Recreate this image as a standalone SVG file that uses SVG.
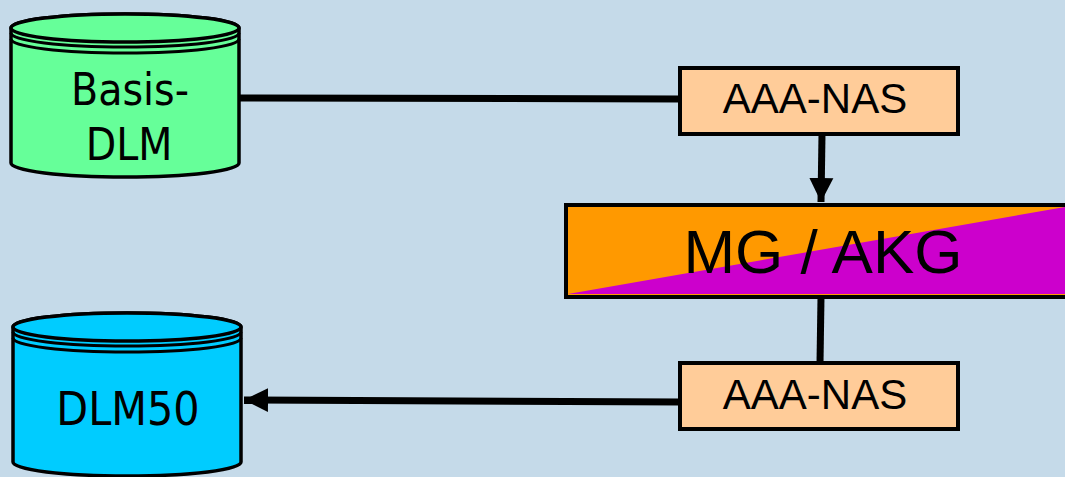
<svg xmlns="http://www.w3.org/2000/svg" width="1065" height="477" viewBox="0 0 1065 477">
<defs>
<style>
.cyl{stroke:#000;stroke-width:3.5}
.rim{fill:none;stroke:#000;stroke-width:3}
.box{fill:#FFCC99;stroke:#000;stroke-width:4}
.lbl{font-family:"Liberation Sans",Arial,sans-serif;fill:#000;text-anchor:middle}
.cl{font-family:"DejaVu Sans Condensed","DejaVu Sans",sans-serif;fill:#000;text-anchor:middle}
.conn{stroke:#000;stroke-width:7;fill:none}
</style>
<marker id="ah" markerUnits="userSpaceOnUse" markerWidth="26" markerHeight="26" refX="24" refY="12" orient="auto" viewBox="0 0 26 24">
<path d="M0,0 L24,12 L0,24 Z" fill="#000"/>
</marker>
</defs>
<rect width="1065" height="477" fill="#C5DAE9"/>
<g id="connectors">
<line class="conn" x1="239" y1="98" x2="681" y2="99"/>
<line class="conn" x1="822" y1="134" x2="821" y2="202" marker-end="url(#ah)"/>
<line class="conn" x1="821" y1="297" x2="820" y2="363"/>
<line class="conn" x1="681" y1="402" x2="244" y2="400" marker-end="url(#ah)"/>
</g>
<g id="basis-dlm">
<path class="cyl" fill="#66FF99" d="M11,28 L11,163 A114,14 0 0 0 239,163 L239,28 A114,14 0 0 0 11,28 Z"/>
<ellipse class="cyl" fill="#66FF99" cx="125" cy="28" rx="114" ry="14"/>
<path class="rim" d="M11,33 A114,14 0 0 0 239,33"/>
<path class="rim" d="M11,39 A114,14 0 0 0 239,39"/>
<text class="cl" x="130" y="105" font-size="44">Basis-</text>
<text class="cl" x="129" y="160" font-size="44">DLM</text>
</g>
<g id="dlm50">
<path class="cyl" fill="#00CCFF" d="M13,327 L13,462 A114,14 0 0 0 241,462 L241,327 A114,14 0 0 0 13,327 Z"/>
<ellipse class="cyl" fill="#00CCFF" cx="127" cy="327" rx="114" ry="14"/>
<path class="rim" d="M13,332 A114,14 0 0 0 241,332"/>
<path class="rim" d="M13,338 A114,14 0 0 0 241,338"/>
<text class="cl" x="128" y="425" font-size="46">DLM50</text>
</g>
<g id="aaa-nas-top">
<rect class="box" x="680" y="68" width="278" height="66"/>
<text class="lbl" x="815" y="113" font-size="42">AAA-NAS</text>
</g>
<g id="mg-akg">
<rect x="566" y="205" width="510" height="92" fill="#FF9900" stroke="#000" stroke-width="4"/>
<polygon points="568,294 1065,207 1065,294" fill="#CC00CC"/>
<text class="lbl" x="823" y="273" font-size="62">MG / AKG</text>
</g>
<g id="aaa-nas-bottom">
<rect class="box" x="680" y="363" width="278" height="66"/>
<text class="lbl" x="815" y="409" font-size="42">AAA-NAS</text>
</g>
</svg>
